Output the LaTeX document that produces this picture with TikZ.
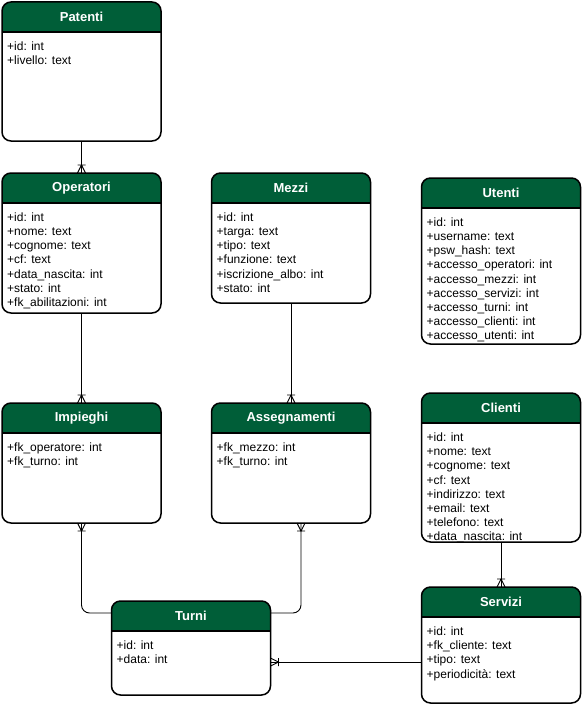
\documentclass[tikz,border=0pt]{standalone}
\usepackage{fontspec}
\setmainfont{Liberation Sans}
\usetikzlibrary{arrows.meta}
\definecolor{hdrgreen}{RGB}{0,94,56}

% crow's foot, "one or many"
\pgfdeclarearrow{
  name = Crow,
  setup code = {
    \pgfarrowssettipend{0pt}
    \pgfarrowssetlineend{0pt}
    \pgfarrowssetbackend{-8pt}
    \pgfarrowshullpoint{0pt}{4pt}
    \pgfarrowshullpoint{0pt}{-4pt}
    \pgfarrowshullpoint{-8pt}{4pt}
    \pgfarrowshullpoint{-8pt}{-4pt}
  },
  drawing code = {
    \pgfsetdash{}{0pt}
    \pgfpathmoveto{\pgfqpoint{0pt}{4pt}}
    \pgfpathlineto{\pgfqpoint{-8pt}{0pt}}
    \pgfpathlineto{\pgfqpoint{0pt}{-4pt}}
    \pgfpathmoveto{\pgfqpoint{-8pt}{4pt}}
    \pgfpathlineto{\pgfqpoint{-8pt}{-4pt}}
    \pgfusepathqstroke
  }
}

\tikzset{
  tablebox/.style={rectangle, minimum width=159pt, inner sep=0pt, outer sep=0pt},
  hdrtext/.style={text=white, inner sep=0pt, font=\fontsize{13}{15}\selectfont\bfseries},
  rowtext/.style={anchor=north west, align=left, inner sep=0pt, font=\fontsize{12}{14.2}\selectfont},
  link/.style={line width=0.9pt, -Crow}
}

\newcommand{\dbtable}[6]{%
  \node[tablebox, minimum height=#4pt, anchor=north west] (#1) at (#2,#3) {};
  \begin{scope}
    \clip[rounded corners=9pt] (#1.north west) rectangle (#1.south east);
    \fill[hdrgreen] (#1.north west) rectangle ([yshift=-30pt]#1.north east);
  \end{scope}
  \draw[line width=1.5pt] ([yshift=-30pt]#1.north west) -- ([yshift=-30pt]#1.north east);
  \draw[line width=1.5pt, rounded corners=9pt] (#1.north west) rectangle (#1.south east);
  \node[hdrtext] (#1-title) at ([yshift=-15pt]#1.north) {#5};
  \node[rowtext] (#1-rows) at ([xshift=5pt,yshift=-39.5pt]#1.north west) {#6};
}

\begin{document}
\begin{tikzpicture}[x=1pt, y=-1pt]
  \useasboundingbox (0,0) rectangle (582,709);
  \dbtable{patenti}{2}{2}{139}{Patenti}{+id: int\\+livello: text}
  \dbtable{operatori}{2}{173}{140}{Operatori}{+id: int\\+nome: text\\+cognome: text\\+cf: text\\+data\_nascita: int\\+stato: int\\+fk\_abilitazioni: int}
  \dbtable{mezzi}{211.5}{173}{130}{Mezzi}{+id: int\\+targa: text\\+tipo: text\\+funzione: text\\+iscrizione\_albo: int\\+stato: int}
  \dbtable{utenti}{421.5}{178}{166}{Utenti}{+id: int\\+username: text\\+psw\_hash: text\\+accesso\_operatori: int\\+accesso\_mezzi: int\\+accesso\_servizi: int\\+accesso\_turni: int\\+accesso\_clienti: int\\+accesso\_utenti: int}
  \dbtable{impieghi}{2}{403}{120}{Impieghi}{+fk\_operatore: int\\+fk\_turno: int}
  \dbtable{assegnamenti}{211.5}{403}{120}{Assegnamenti}{+fk\_mezzo: int\\+fk\_turno: int}
  \dbtable{clienti}{421.5}{393}{149}{Clienti}{+id: int\\+nome: text\\+cognome: text\\+cf: text\\+indirizzo: text\\+email: text\\+telefono: text\\+data\_nascita: int}
  \dbtable{turni}{111.5}{601}{94}{Turni}{+id: int\\+data: int}
  \dbtable{servizi}{421.5}{587}{116}{Servizi}{+id: int\\+fk\_cliente: text\\+tipo: text\\+periodicità: text}

  \draw[link] (patenti.south) -- (operatori.north);
  \draw[link] (operatori.south) -- (impieghi.north);
  \draw[link] (mezzi.south) -- (assegnamenti.north);
  \draw[link] (clienti.south) -- (servizi.north);
  \draw[link, rounded corners=8pt] ([yshift=-12pt]turni.north west) -| (impieghi.south);
  \draw[link, rounded corners=8pt] ([yshift=-12pt]turni.north east) -| ([xshift=10pt]assegnamenti.south);
  \coordinate (servizi-in) at ([yshift=-17pt]servizi.west);
  \draw[link] (servizi-in) -- (turni.east |- servizi-in);
\end{tikzpicture}
\end{document}
